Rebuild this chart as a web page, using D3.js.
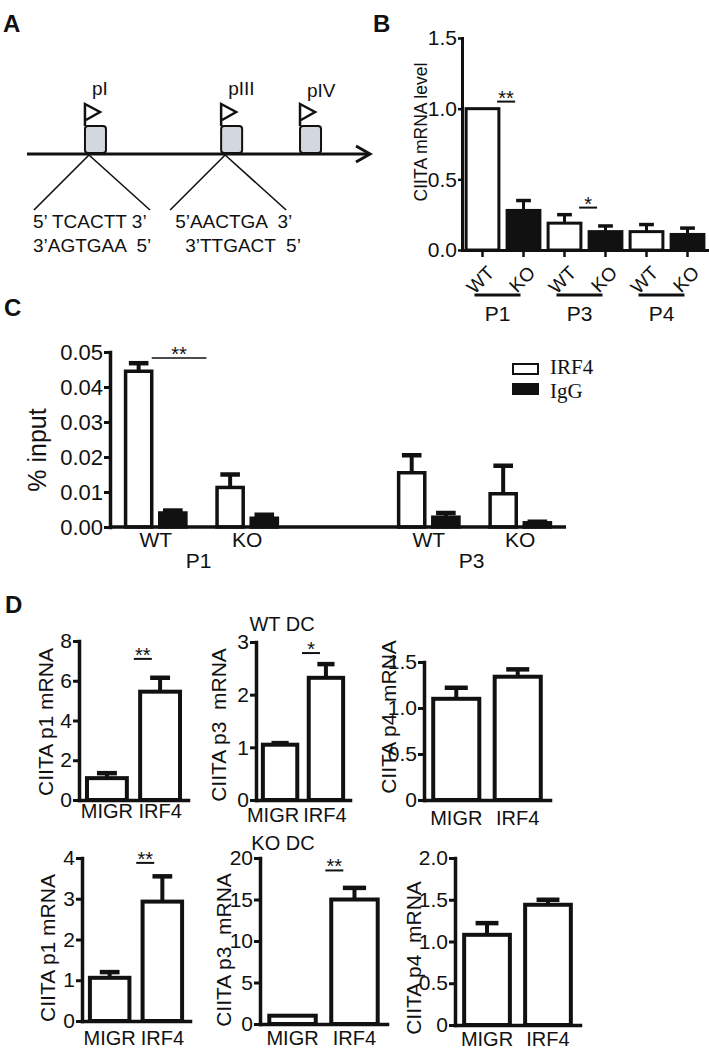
<!DOCTYPE html>
<html>
<head>
<meta charset="utf-8">
<title>CIITA / IRF4 figure</title>
<script src="https://d3js.org/d3.v7.min.js"></script>
<style>
  body {
    margin: 0;
    background: #fff;
  }
  svg text {
    font-family: "Liberation Sans", Arial, sans-serif;
    fill: #111;
    white-space: pre;
  }
  svg text.serif {
    font-family: "Liberation Serif", "Times New Roman", serif;
  }
  .panel {
    font-weight: bold;
    font-size: 24px;
  }
</style>
</head>
<body>
<div id="fig"></div>
<script>
  // ---- A : promoter map ----
  var aNames = ["pI", "pIII", "pIV"];
  var aPos = [0.169, 0.566, 0.796]; // relative place of each box on the gene line
  var aSeqTop = ["5\u2019 TCACTT 3\u2019", "5\u2019AACTGA  3\u2019"];
  var aSeqBot = ["3\u2019AGTGAA  5\u2019", "3\u2019TTGACT  5\u2019"];

  // ---- B : CIITA mRNA level ----
  var bCats = ["WT", "KO", "WT", "KO", "WT", "KO"];
  var bGroups = ["P1", "P1", "P3", "P3", "P4", "P4"];
  var bMean = [1.0, 0.28, 0.19, 0.13, 0.13, 0.11];
  var bErr = [1.0, 0.35, 0.25, 0.17, 0.18, 0.155];
  var bTicks = [0, 0.5, 1.0, 1.5];
  var bSig = ["**", "*"];
  var bSigBar = [1, 3];      // bar that the mark sits over
  var bSigAt = [1.05, 0.30];

  // ---- C : ChIP, % input ----
  var cPromoters = ["P1", "P3"];
  var cGenotypes = ["WT", "KO"];
  var cAntibodies = ["IRF4", "IgG"];
  // order: P1 WT, P1 KO, P3 WT, P3 KO
  var cIRF4 = [0.0445, 0.0113, 0.0155, 0.0095];
  var cIRF4Err = [0.0468, 0.0150, 0.0205, 0.0175];
  var cIgG = [0.0040, 0.0025, 0.0028, 0.0012];
  var cIgGErr = [0.0047, 0.0035, 0.0040, 0.0015];
  var cTicks = [0, 0.01, 0.02, 0.03, 0.04, 0.05];
  var cSigAt = 0.0483;

  // ---- D : MIGR vs IRF4 retrovirus ----
  var dConds = ["MIGR", "IRF4"];
  var dTitles = ["CIITA p1 mRNA", "CIITA p3  mRNA", "CIITA p4  mRNA"];
  var wtMean = [[1.1, 5.45], [1.05, 2.32], [1.1, 1.34]];
  var wtErr = [[1.35, 6.15], [1.08, 2.58], [1.22, 1.42]];
  var wtTicks = [[0, 2, 4, 6, 8], [0, 1, 2, 3], [0, 0.5, 1.0, 1.5]];
  var wtSig = ["**", "*", ""];
  var wtSigAt = [7.1, 2.79, 0];
  var koMean = [[1.06, 2.93], [1.0, 15.0], [1.08, 1.44]];
  var koErr = [[1.2, 3.55], [1.0, 16.4], [1.22, 1.5]];
  var koTicks = [[0, 1, 2, 3, 4], [0, 5, 10, 15, 20], [0, 0.5, 1.0, 1.5, 2.0]];
  var koSig = ["**", "**", ""];
  var koSigAt = [3.88, 18.5, 0];

  var ink = "#111";

  var svg = d3.select("#fig").append("svg")
    .attr("width", 709)
    .attr("height", 1050)
    .style("background", "#fff");

  // panel letters
  [["A", 3, 32], ["B", 373, 32], ["C", 4, 316], ["D", 5, 613]].forEach(function(p) {
    svg.append("text").attr("class", "panel").attr("x", p[1]).attr("y", p[2]).text(p[0]);
  });

  function styleAxis(g, fs, w) {
    g.attr("font-size", fs).attr("font-family", null);
    g.select(".domain").attr("stroke", ink).attr("stroke-width", w).attr("stroke-linecap", "square");
    g.selectAll(".tick line").attr("stroke", ink).attr("stroke-width", w - 0.5);
    g.selectAll(".tick text").attr("fill", ink);
  }

  function errBars(g, items, w) {
    items.forEach(function(d) {
      if (d.e <= d.v) return;
      g.append("line")
        .attr("x1", d.cx).attr("x2", d.cx)
        .attr("y1", d.y0).attr("y2", d.y1)
        .attr("stroke", ink).attr("stroke-width", w);
      g.append("line")
        .attr("x1", d.cx - d.cap / 2).attr("x2", d.cx + d.cap / 2)
        .attr("y1", d.y1).attr("y2", d.y1)
        .attr("stroke", ink).attr("stroke-width", w + 0.5);
    });
  }

  // significance bar with stars sitting just above it
  function sigMark(g, cx, half, y, label, fs, w) {
    g.append("line")
      .attr("x1", cx - half).attr("x2", cx + half)
      .attr("y1", y).attr("y2", y)
      .attr("stroke", ink).attr("stroke-width", w);
    g.append("text")
      .attr("x", cx).attr("y", y + 3)
      .attr("text-anchor", "middle")
      .attr("font-size", fs)
      .text(label);
  }

  // =================== A ===================
  var gA = svg.append("g");
  var aX = d3.scaleLinear().domain([0, 1]).range([27, 370]);
  var aLineY = 154;

  gA.append("line")
    .attr("x1", aX(0)).attr("x2", aX(1))
    .attr("y1", aLineY).attr("y2", aLineY)
    .attr("stroke", ink).attr("stroke-width", 3);
  gA.append("path")
    .attr("d", "M" + (aX(1) - 14) + "," + (aLineY - 8) + "L" + aX(1) + "," + aLineY + "L" + (aX(1) - 14) + "," + (aLineY + 8))
    .attr("fill", "none").attr("stroke", ink).attr("stroke-width", 3);

  aNames.forEach(function(name, i) {
    var bx = aX(aPos[i]);
    var top = aLineY - 28;
    if (i < aSeqTop.length) {
      [-51, 65].forEach(function(dx) {
        gA.append("line")
          .attr("x1", bx + 4).attr("y1", aLineY + 1)
          .attr("x2", bx + dx).attr("y2", 210)
          .attr("stroke", ink).attr("stroke-width", 1.6);
      });
      var sx = i === 0 ? bx - 52 : bx - 46;
      gA.append("text").attr("x", sx).attr("y", 228).attr("font-size", 19).text(aSeqTop[i]);
      gA.append("text").attr("x", i === 0 ? sx : sx + 10).attr("y", 252).attr("font-size", 19).text(aSeqBot[i]);
    }
    gA.append("rect")
      .attr("x", bx).attr("y", top)
      .attr("width", 21).attr("height", 27)
      .attr("rx", 3)
      .attr("fill", "#d3d8df").attr("stroke", ink).attr("stroke-width", 2);
    gA.append("path")
      .attr("d", "M" + bx + "," + top + "V" + (top - 22) + "L" + (bx + 15) + "," + (top - 14) + "L" + (bx + 1) + "," + (top - 6))
      .attr("fill", "none").attr("stroke", ink).attr("stroke-width", 2.5);
    gA.append("text")
      .attr("x", bx + 7).attr("y", top - 31 + (i === 2 ? 2 : 0))
      .attr("font-size", 19)
      .text(name);
  });

  // =================== B ===================
  var gB = svg.append("g");
  var bKeys = bCats.map(function(c, i) { return bGroups[i] + "-" + c; });
  var bx = d3.scaleBand().domain(bKeys).range([462, 708]).paddingInner(0.2).paddingOuter(0.1);
  var by = d3.scaleLinear().domain([0, 1.5]).range([250, 38]);

  gB.selectAll("rect")
    .data(bKeys)
    .enter()
    .append("rect")
    .attr("x", function(d) { return bx(d); })
    .attr("y", function(d, i) { return by(bMean[i]); })
    .attr("width", bx.bandwidth())
    .attr("height", function(d, i) { return by(0) - by(bMean[i]); })
    .attr("fill", function(d, i) { return bCats[i] === "WT" ? "#fff" : ink; })
    .attr("stroke", ink)
    .attr("stroke-width", 3);

  errBars(gB, bKeys.map(function(k, i) {
    return { cx: bx(k) + bx.bandwidth() / 2, v: bMean[i], e: bErr[i], y0: by(bMean[i]), y1: by(bErr[i]), cap: bx.bandwidth() * 0.45 };
  }), 3);

  var bYAxis = gB.append("g")
    .attr("transform", "translate(462,0)")
    .call(d3.axisLeft(by).tickValues(bTicks).tickFormat(d3.format(".1f")).tickSize(4).tickSizeOuter(0).tickPadding(1));
  styleAxis(bYAxis, 21, 3);

  var bXAxis = gB.append("g")
    .attr("transform", "translate(0," + by(0) + ")")
    .call(d3.axisBottom(bx).tickSize(7).tickSizeOuter(0).tickFormat(function(d, i) { return bCats[i]; }));
  styleAxis(bXAxis, 19, 3);
  bXAxis.selectAll(".tick text")
    .attr("x", 0).attr("y", 0).attr("dy", 0)
    .attr("text-anchor", "end")
    .attr("transform", "translate(13,24) rotate(-45)");

  var bGroupNames = Array.from(new Set(bGroups));
  bGroupNames.forEach(function(gname) {
    var ks = bKeys.filter(function(k, i) { return bGroups[i] === gname; });
    var x1 = bx(ks[0]) + bx.bandwidth() / 2 - 8;
    var x2 = bx(ks[ks.length - 1]) + bx.bandwidth() / 2 - 3;
    gB.append("line")
      .attr("x1", x1).attr("x2", x2).attr("y1", 295).attr("y2", 295)
      .attr("stroke", ink).attr("stroke-width", 3);
    gB.append("text")
      .attr("x", (x1 + x2) / 2).attr("y", 321)
      .attr("text-anchor", "middle").attr("font-size", 21)
      .text(gname);
  });

  bSig.forEach(function(s, i) {
    sigMark(gB, bx(bKeys[bSigBar[i]]) - 1, 9, by(bSigAt[i]), s, 20, 2);
  });

  gB.append("text")
    .attr("transform", "translate(427,132) rotate(-90)")
    .attr("text-anchor", "middle")
    .attr("font-size", 17.5)
    .text("CIITA mRNA level");

  // =================== C ===================
  var gC = svg.append("g");
  var cx0 = d3.scaleBand().domain(cPromoters).range([110, 566]).paddingInner(0.33).paddingOuter(0);
  var cx1 = d3.scaleBand().domain(cGenotypes).range([0, cx0.bandwidth()]).padding(0);
  var cx2 = d3.scaleBand().domain(cAntibodies).range([0, cx1.bandwidth()]).paddingInner(0.235).paddingOuter(0.456);
  var cy = d3.scaleLinear().domain([0, 0.05]).range([527, 352]);

  var cRows = [];
  cPromoters.forEach(function(p, pi) {
    cGenotypes.forEach(function(g, gi) {
      var k = pi * cGenotypes.length + gi;
      cRows.push({ p: p, g: g, ab: "IRF4", v: cIRF4[k], e: cIRF4Err[k] });
      cRows.push({ p: p, g: g, ab: "IgG", v: cIgG[k], e: cIgGErr[k] });
    });
  });
  cRows.forEach(function(d) {
    d.x = cx0(d.p) + cx1(d.g) + cx2(d.ab);
  });

  gC.selectAll("rect")
    .data(cRows)
    .enter()
    .append("rect")
    .attr("x", function(d) { return d.x; })
    .attr("y", function(d) { return cy(d.v); })
    .attr("width", cx2.bandwidth())
    .attr("height", function(d) { return cy(0) - cy(d.v); })
    .attr("fill", function(d) { return d.ab === "IRF4" ? "#fff" : ink; })
    .attr("stroke", ink)
    .attr("stroke-width", 3.5);

  errBars(gC, cRows.map(function(d) {
    return { cx: d.x + cx2.bandwidth() / 2, v: d.v, e: d.e, y0: cy(d.v), y1: cy(d.e), cap: cx2.bandwidth() * 0.75 };
  }), 4);

  var cYAxis = gC.append("g")
    .attr("transform", "translate(110,0)")
    .call(d3.axisLeft(cy).tickValues(cTicks).tickFormat(d3.format(".2f")).tickSize(6).tickSizeOuter(0).tickPadding(1));
  styleAxis(cYAxis, 22, 3.5);

  gC.append("line")
    .attr("x1", cx0.range()[0]).attr("x2", cx0.range()[1])
    .attr("y1", cy(0)).attr("y2", cy(0))
    .attr("stroke", ink).attr("stroke-width", 3.5);

  cPromoters.forEach(function(p) {
    cGenotypes.forEach(function(g) {
      gC.append("text")
        .attr("x", cx0(p) + cx1(g) + cx1.bandwidth() / 2).attr("y", 547)
        .attr("text-anchor", "middle").attr("font-size", 21)
        .text(g);
    });
    gC.append("text")
      .attr("x", cx0(p) + cx0.bandwidth() / 2 - 3).attr("y", 568)
      .attr("text-anchor", "middle").attr("font-size", 21)
      .text(p);
  });

  gC.append("text")
    .attr("transform", "translate(46,450) rotate(-90)")
    .attr("text-anchor", "middle")
    .attr("font-size", 25)
    .text("% input");

  // ** over P1 WT
  var cSx1 = cx0("P1") + cx1("WT") + cx2("IRF4") + cx2.bandwidth();
  var cSx2 = cx0("P1") + cx0.bandwidth() / 2 + 5;
  sigMark(gC, (cSx1 + cSx2) / 2, (cSx2 - cSx1) / 2, cy(cSigAt), "**", 20, 1.6);

  // legend
  cAntibodies.forEach(function(ab, i) {
    gC.append("rect")
      .attr("x", 513).attr("y", 364 + i * 20)
      .attr("width", 25).attr("height", 10)
      .attr("fill", ab === "IRF4" ? "#fff" : ink)
      .attr("stroke", ink).attr("stroke-width", 2);
    gC.append("text")
      .attr("class", "serif")
      .attr("x", 550).attr("y", 374 + i * 24)
      .attr("font-size", 21)
      .text(ab);
  });

  // =================== D ===================
  var gD = svg.append("g");
  gD.append("text").attr("x", 282).attr("y", 631).attr("text-anchor", "middle").attr("font-size", 20).text("WT DC");
  gD.append("text").attr("x", 283).attr("y", 850).attr("text-anchor", "middle").attr("font-size", 20).text("KO DC");

  function tickFmt(ticks) {
    var dec = ticks.some(function(t) { return t % 1 !== 0; });
    return function(d) { return d === 0 ? "0" : (dec ? d3.format(".1f")(d) : d3.format("d")(d)); };
  }

  function dChart(f, title, mean, err, ticks, sig, sigAt) {
    var g = gD.append("g");
    var x = d3.scaleBand().domain(dConds).range([f.x0, f.x1]).paddingInner(0.25).paddingOuter(0.15);
    var y = d3.scaleLinear().domain([0, d3.max(ticks)]).range([f.yBot, f.yTop]);

    g.selectAll("rect")
      .data(dConds)
      .enter()
      .append("rect")
      .attr("x", function(d) { return x(d); })
      .attr("y", function(d, i) { return y(mean[i]); })
      .attr("width", x.bandwidth())
      .attr("height", function(d, i) { return y(0) - y(mean[i]); })
      .attr("fill", "#fff")
      .attr("stroke", ink)
      .attr("stroke-width", 4);

    errBars(g, dConds.map(function(c, i) {
      return { cx: x(c) + x.bandwidth() / 2, v: mean[i], e: err[i], y0: y(mean[i]), y1: y(err[i]), cap: x.bandwidth() * 0.5 };
    }), 4);

    var ya = g.append("g")
      .attr("transform", "translate(" + f.x0 + ",0)")
      .call(d3.axisLeft(y).tickValues(ticks).tickFormat(tickFmt(ticks)).tickSize(6).tickSizeOuter(0).tickPadding(1));
    styleAxis(ya, 21, 3.5);

    var xa = g.append("g")
      .attr("transform", "translate(0," + y(0) + ")")
      .call(d3.axisBottom(x).tickSize(0).tickSizeOuter(0).tickPadding(f.pad));
    styleAxis(xa, 20, 3.5);
    xa.selectAll(".tick text").attr("dx", function(d, i) { return f.ldx ? f.ldx[i] : 0; });

    g.append("text")
      .attr("transform", "translate(" + f.tx + "," + f.ty + ") rotate(-90)")
      .attr("text-anchor", "middle")
      .attr("font-size", 21)
      .text(title);

    if (sig) {
      sigMark(g, x("IRF4") + x.step() * 0.05, 9, y(sigAt), sig, 20, 2);
    }
  }

  var wtFrames = [
    { x0: 79, x1: 188, yTop: 641, yBot: 800, pad: 4, tx: 53, ty: 722 },
    { x0: 256, x1: 350, yTop: 642, yBot: 800, pad: 8, tx: 226, ty: 725, ldx: [-7, -1] },
    { x0: 424, x1: 550, yTop: 662, yBot: 800, pad: 11, tx: 396, ty: 717 }
  ];
  var koFrames = [
    { x0: 82, x1: 190, yTop: 858, yBot: 1021, pad: 10, tx: 55, ty: 948 },
    { x0: 260, x1: 387, yTop: 858, yBot: 1024, pad: 7, tx: 231, ty: 950 },
    { x0: 455, x1: 580, yTop: 858, yBot: 1025, pad: 7, tx: 421, ty: 958 }
  ];

  dTitles.forEach(function(t, i) {
    dChart(wtFrames[i], t, wtMean[i], wtErr[i], wtTicks[i], wtSig[i], wtSigAt[i]);
    dChart(koFrames[i], t, koMean[i], koErr[i], koTicks[i], koSig[i], koSigAt[i]);
  });
</script>
</body>
</html>
